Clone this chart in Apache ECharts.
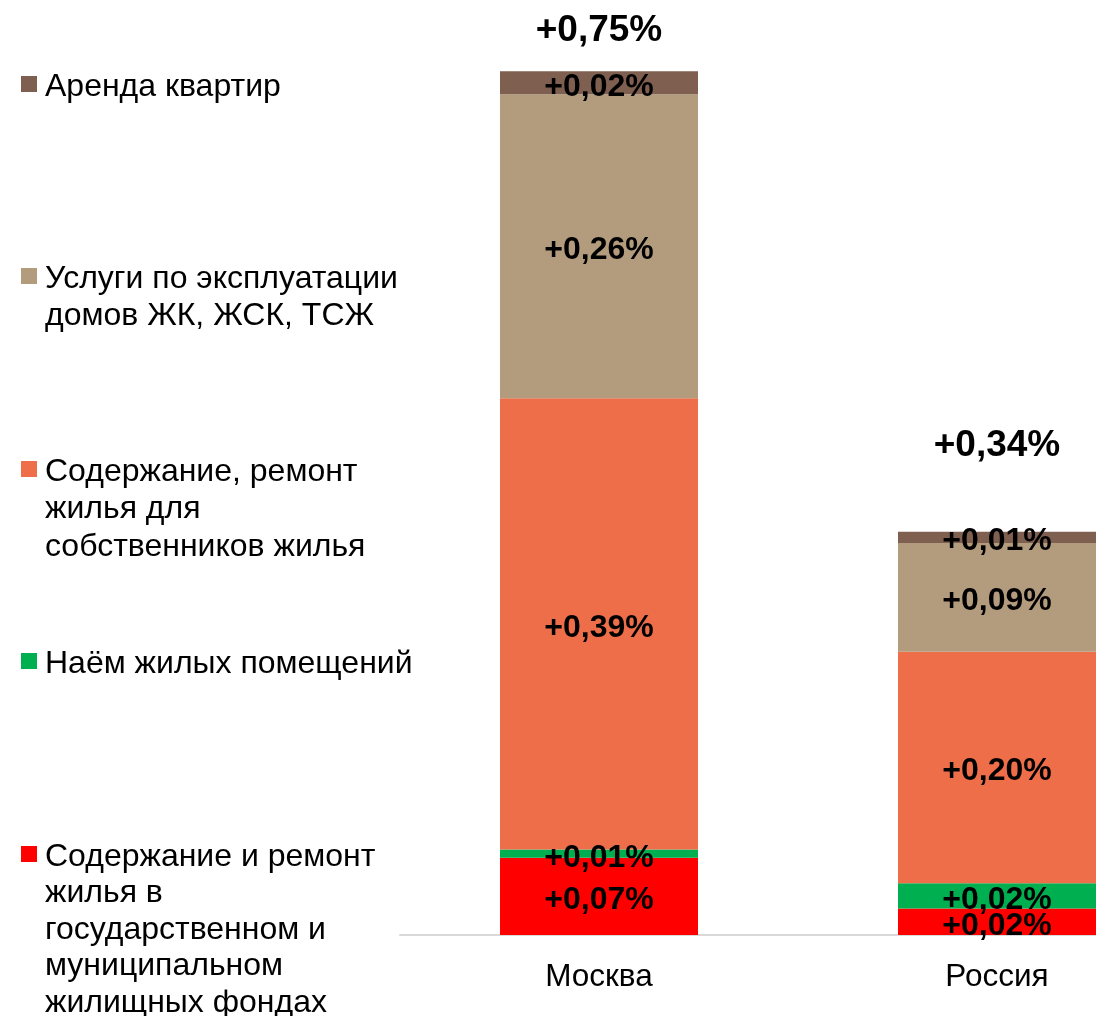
<!DOCTYPE html>
<html>
<head>
    <meta charset="utf-8">
    <title>Жилищные услуги</title>
    <script src="https://cdn.jsdelivr.net/npm/echarts@6/dist/echarts.min.js"></script>
    <style>
        html, body { margin: 0; padding: 0; background: #fff; }
        #main { width: 1096px; height: 1016px; }
    </style>
</head>
<body>
<div id="main"></div>
<script>
    // данные
    var categories = ['Москва', 'Россия'];
    var seriesNames = [
        'Содержание и ремонт\nжилья в\nгосударственном и\nмуниципальном\nжилищных фондах',
        'Наём жилых помещений',
        'Содержание, ремонт\nжилья для\nсобственников жилья',
        'Услуги по эксплуатации\nдомов ЖК, ЖСК, ТСЖ',
        'Аренда квартир'
    ];
    var gosFond = [0.067, 0.023];
    var naem = [0.0072, 0.022];
    var sobstv = [0.392, 0.201];
    var ekspl = [0.264, 0.0946];
    var arenda = [0.02, 0.0096];
    var totals = [0.75, 0.34];

    var values = [gosFond, naem, sobstv, ekspl, arenda];
    var colors = ['#ff0000', '#00b050', '#ee6e4a', '#b39c7d', '#7f5f50'];
    var FONT = '"Liberation Sans", Arial, sans-serif';

    function fmt(v) {
        return '+' + v.toFixed(2).replace('.', ',') + '%';
    }

    var series = values.map(function (arr, i) {
        return {
            name: seriesNames[i],
            type: 'bar',
            stack: 'all',
            barWidth: 198,
            data: arr,
            itemStyle: { color: colors[i] },
            label: {
                show: true,
                position: 'inside',
                offset: [0, 4],
                color: '#000',
                fontFamily: FONT,
                fontWeight: 'bold',
                fontSize: 32,
                formatter: function (p) { return fmt(p.value); }
            }
        };
    });

    // подписи итогов над столбцами
    var totalGap = [22, 68];
    series.push({
        name: 'итого',
        type: 'bar',
        stack: 'all',
        barWidth: 198,
        data: totals.map(function (t, i) {
            return { value: 0, label: { distance: totalGap[i] } };
        }),
        itemStyle: { color: 'transparent' },
        label: {
            show: true,
            position: 'top',
            color: '#000',
            fontFamily: FONT,
            fontWeight: 'bold',
            fontSize: 37,
            formatter: function (p) { return fmt(totals[p.dataIndex]); }
        }
    });

    // легенда слева
    var legendY = [855, 662, 470, 277, 85];
    var legendLH = [36.5, 37, 37.5, 37, 37];
    var graphic = [];
    for (var i = 0; i < seriesNames.length; i++) {
        graphic.push({
            type: 'rect',
            left: 21,
            top: legendY[i] - 9,
            shape: { width: 16, height: 16 },
            style: { fill: colors[i] }
        });
        graphic.push({
            type: 'text',
            left: 45,
            top: legendY[i] - legendLH[i] / 2 + 2,
            style: {
                text: seriesNames[i],
                fill: '#000',
                font: '32px ' + FONT,
                lineHeight: legendLH[i]
            }
        });
    }

    var myChart = echarts.init(document.getElementById('main'));
    var option = {
        animation: false,
        grid: { left: 400, top: 14, bottom: 81, width: 796, outerBoundsMode: 'none', containLabel: false },
        xAxis: {
            type: 'category',
            data: categories,
            axisTick: { show: false },
            axisLine: { lineStyle: { color: '#d9d9d9', width: 2 } },
            axisLabel: { color: '#000', fontFamily: FONT, fontSize: 31.5, margin: 26 }
        },
        yAxis: {
            type: 'value',
            min: 0,
            max: 0.8,
            show: false,
            splitLine: { show: false }
        },
        graphic: graphic,
        series: series
    };
    myChart.setOption(option);
</script>
</body>
</html>
